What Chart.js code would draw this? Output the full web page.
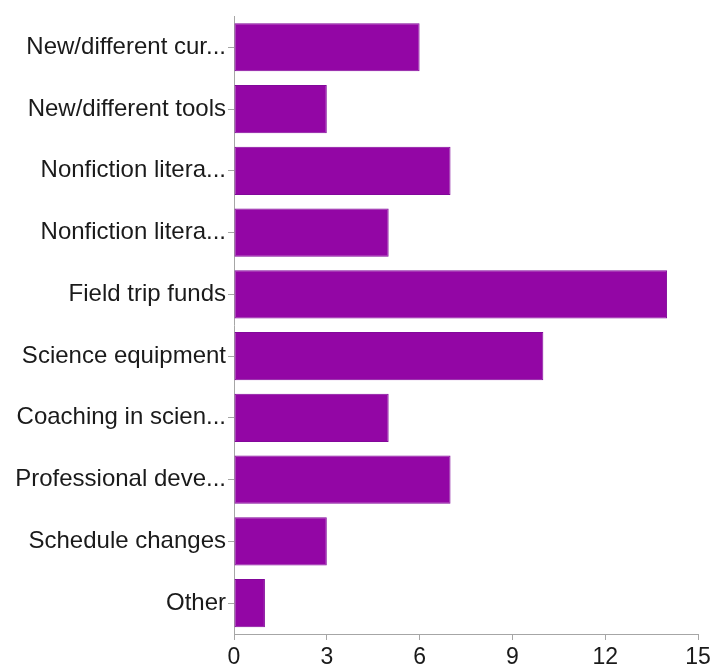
<!DOCTYPE html>
<html>
<head>
<meta charset="utf-8">
<script src="https://cdn.jsdelivr.net/npm/chart.js@4"></script>
<style>
  html, body { margin: 0; padding: 0; background: #fff; }
  #wrap { width: 716px; height: 667px; position: relative; }
</style>
</head>
<body>
<div id="wrap"><canvas id="chart"></canvas></div>
<script>
"use strict";

var answers = [
  'New/different cur...',
  'New/different tools',
  'Nonfiction litera...',
  'Nonfiction litera...',
  'Field trip funds',
  'Science equipment',
  'Coaching in scien...',
  'Professional deve...',
  'Schedule changes',
  'Other'
];
var counts = [6, 3, 7, 5, 14, 10, 5, 7, 3, 1];
var countTicks = [0, 3, 6, 9, 12, 15];

var axisGrey = '#a6a6a6';
var textColor = '#1a1a1a';

new Chart(document.getElementById('chart').getContext('2d'), {
  type: 'bar',
  data: {
    labels: answers,
    datasets: [{
      data: counts,
      backgroundColor: '#9306a5',
      borderColor: '#82089a',
      borderWidth: 1,
      borderSkipped: false,
      categoryPercentage: 1,
      barPercentage: 0.78
    }]
  },
  options: {
    indexAxis: 'y',
    responsive: true,
    maintainAspectRatio: false,
    animation: false,
    layout: {
      padding: { top: 15, right: 18, left: 0, bottom: 0 }
    },
    plugins: {
      legend: { display: false },
      tooltip: { enabled: false }
    },
    scales: {
      x: {
        min: 0,
        max: 15,
        afterBuildTicks: function (axis) {
          axis.ticks = countTicks.map(function (v) { return { value: v }; });
        },
        afterFit: function (axis) { axis.height = 33; },
        grid: {
          drawOnChartArea: false,
          color: axisGrey,
          tickLength: 6
        },
        border: { color: axisGrey, width: 1 },
        ticks: {
          color: textColor,
          padding: 4,
          maxRotation: 0,
          font: { family: 'Liberation Sans, Arial, sans-serif', size: 23 }
        }
      },
      y: {
        afterFit: function (axis) { axis.width = 234; },
        grid: {
          drawOnChartArea: false,
          offset: false,
          color: axisGrey,
          tickLength: 6
        },
        border: { color: axisGrey, width: 1 },
        ticks: {
          color: textColor,
          padding: 2,
          autoSkip: false,
          font: { family: 'Liberation Sans, Arial, sans-serif', size: 24 }
        }
      }
    }
  }
});
</script>
</body>
</html>
